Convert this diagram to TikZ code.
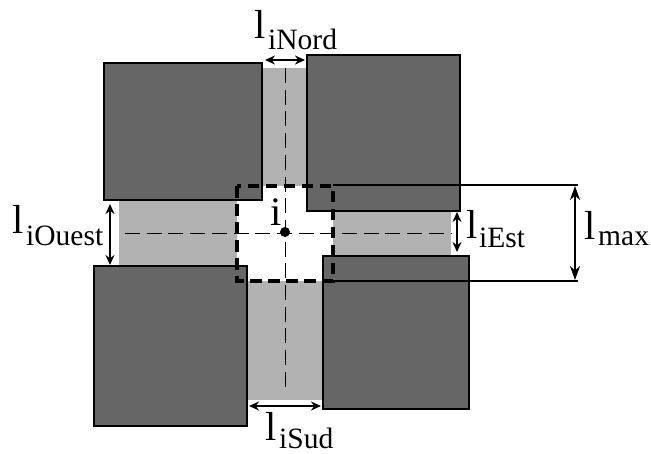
\documentclass[tikz,border=0pt]{standalone}
\usepackage{fontspec}
\setmainfont{Liberation Serif}
\usetikzlibrary{arrows.meta}
\tikzset{
  block/.style={fill=blockgrey,draw=black,line width=2pt},
  road/.style={fill=roadgrey,draw=none},
  axis/.style={draw=black,line width=1pt,dash pattern=on 15pt off 6.7pt},
  zone/.style={draw=black,line width=3.2pt,dash pattern=on 11.5pt off 6.5pt},
  dim/.style={draw=black,line width=1.6pt,{Stealth[length=10pt,width=9pt]}-{Stealth[length=10pt,width=9pt]}},
  dimbig/.style={draw=black,line width=2pt,{Stealth[length=14pt,width=10pt]}-{Stealth[length=14pt,width=10pt]}},
  ext/.style={draw=black,line width=2pt},
  biglab/.style={inner sep=0pt,font=\fontsize{40.5}{41}\selectfont},
  sublab/.style={inner sep=0pt,font=\fontsize{29.5}{30}\selectfont},
}
\definecolor{blockgrey}{gray}{0.4}
\definecolor{roadgrey}{gray}{0.7}
\begin{document}
\begin{tikzpicture}[x=1pt,y=-1pt]
\useasboundingbox (0,0) rectangle (651,453);
% roads
\fill[road] (262,68) rectangle (307,190);
\fill[road] (119,197) rectangle (240,266);
\fill[road] (330,208) rectangle (451,256);
\fill[road] (247,278) rectangle (323,400);
% centre
\fill[white] (237,186) rectangle (333,281);
% axes
\coordinate (aN) at (285,68);
\coordinate (aS) at (285,392);
\coordinate (aW) at (125,233);
\coordinate (aE) at (451,233);
\draw[axis] (aN) -- (aS);
\draw[axis] (aW) -- (aE);
% blocks
\draw[block] (104,63) rectangle (262,200);
\draw[block] (307,55) rectangle (460,211);
\draw[block] (94,266) rectangle (247,426);
\draw[block] (323,256) rectangle (469,409);
% zone
\coordinate (zTL) at (237,186);
\coordinate (zBR) at (333,281);
\draw[zone] (zTL) rectangle (zBR);
\fill (285,232) circle (5pt);
\node[biglab,anchor=base] (li) at (276,225) {i};
% lmax
\coordinate (mT) at (333,184.5);
\coordinate (mB) at (333,281);
\coordinate (mTe) at (578,184.5);
\coordinate (mBe) at (578,281);
\draw[ext] (mT) -- (mTe);
\draw[ext] (mB) -- (mBe);
\coordinate (mA) at (575,186);
\coordinate (mC) at (575,280);
\draw[dimbig] (mA) -- (mC);
% dims
\coordinate (n1) at (265,60); \coordinate (n2) at (305,60);
\draw[dim] (n1) -- (n2);
\coordinate (w1) at (110,204); \coordinate (w2) at (110,265);
\draw[dim] (w1) -- (w2);
\coordinate (e1) at (457,212); \coordinate (e2) at (457,252);
\draw[dim] (e1) -- (e2);
\coordinate (s1) at (249,406); \coordinate (s2) at (321,406);
\draw[dim] (s1) -- (s2);
% labels
\node[biglab,anchor=base west] (tN) at (254,38.5) {l};
\node[sublab,anchor=base west] (sN) at (268,49) {iNord};
\node[biglab,anchor=base west] (tW) at (12.5,233) {l};
\node[sublab,anchor=base west] (sW) at (26,245) {iOuest};
\node[sublab,anchor=base west] (sE) at (479,247) {iEst};
\node[biglab,anchor=base west] (tE) at (466.5,238) {l};
\node[biglab,anchor=base west] (tS) at (265.5,440) {l};
\node[sublab,anchor=base west] (sS) at (279,448) {iSud};
\node[biglab,anchor=base west] (tM) at (584.5,239) {l};
\node[sublab,anchor=base west] (sM) at (598,245) {max};
\end{tikzpicture}
\end{document}
